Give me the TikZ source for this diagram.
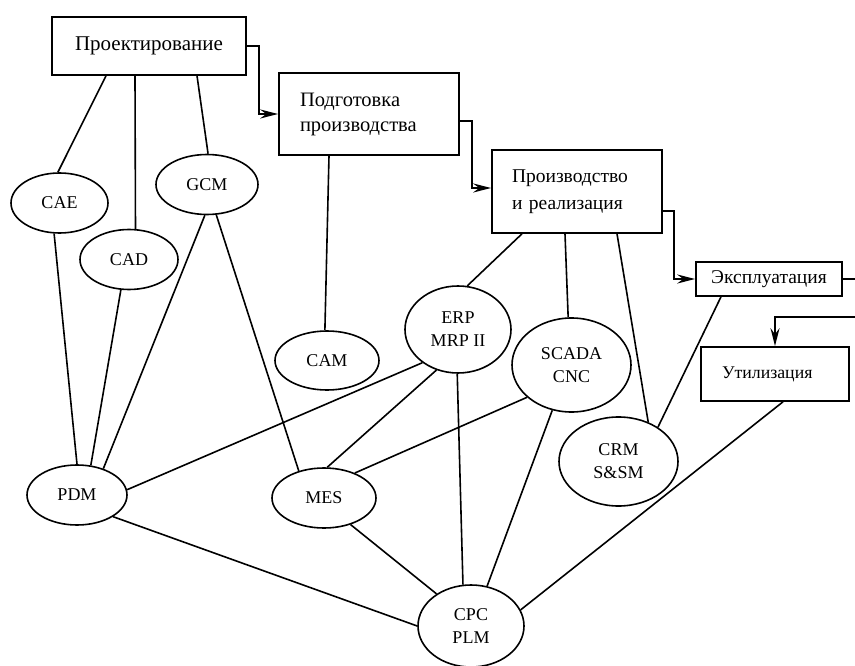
\documentclass[tikz,border=0pt]{standalone}
\usepackage{fontspec}
\setmainfont{Liberation Serif}
\usepackage{tikz}
\usetikzlibrary{arrows.meta,shapes.geometric}

\begin{document}
\begin{tikzpicture}[x=1pt,y=-1pt,line width=1.6pt,
  >={Stealth[length=18pt,width=9pt,inset=6pt]},
  stage/.style={draw,rectangle,inner sep=0pt,font=\fontsize{19}{24}\selectfont},
  sys/.style={draw,ellipse,inner sep=0pt,align=center,font=\fontsize{18}{23}\selectfont}]

\useasboundingbox (0,0) rectangle (855,666);

\node[stage,minimum width=194pt,minimum height=58pt,font=\fontsize{21}{25}\selectfont] (proj) at (149,46)
  {Проектирование};
\node[stage,minimum height=82pt,text width=138pt,inner xsep=21pt,align=left,
  font=\fontsize{20.5}{25}\selectfont] (prep) at (369,114) {Подготовка\\производства};
\node[stage,minimum height=83pt,text width=130pt,inner xsep=20pt,align=left,
  font=\fontsize{19.5}{27}\selectfont] (prod) at (577,191.5) {Производство\\и реализация};
\node[stage,minimum width=146pt,minimum height=34pt,font=\fontsize{19.5}{22}\selectfont] (expl) at (769,279)
  {Эксплуатация};
\node[stage,minimum height=54pt,text width=106pt,inner xsep=21pt,align=left,
  font=\fontsize{17.8}{21}\selectfont] (util) at (775,374) {Утилизация};

\node[sys,minimum width=97pt,minimum height=60pt] (cae) at (59.5,203) {CAE};
\node[sys,minimum width=98pt,minimum height=60pt] (cad) at (129,259.5) {CAD};
\node[sys,minimum width=102pt,minimum height=60pt] (gcm) at (207,184.5) {GCM};
\node[sys,minimum width=104pt,minimum height=59pt] (cam) at (327,360.5) {CAM};
\node[sys,minimum width=106pt,minimum height=87pt] (erp) at (458,329.5) {ERP\\MRP II};
\node[sys,minimum width=119pt,minimum height=94pt] (scada) at (571.5,365) {SCADA\\CNC};
\node[sys,minimum width=119pt,minimum height=89pt] (crm) at (618.5,461.5) {CRM\\S\&SM};
\node[sys,minimum width=104pt,minimum height=60pt] (mes) at (324,498) {MES};
\node[sys,minimum width=100pt,minimum height=60pt] (pdm) at (77,495) {PDM};
\node[sys,minimum width=106pt,minimum height=82pt] (cpc) at (471,626) {CPC\\PLM};

\coordinate (out) at (855,279);
\coordinate (back) at (855,317);

\path
  ([xshift=-43pt]proj.south) edge (cae.93)
  ([xshift=-14pt]proj.south) edge (cad.78)
  ([xshift=48pt]proj.south)  edge (gcm.88)

  (cae.260) edge (pdm.90)
  (cad.255) edge (pdm.65)
  (gcm.266) edge (pdm.45)
  (gcm.287) edge (mes.133)

  ([xshift=-40pt]prep.south) edge (cam.94)

  ([xshift=-55pt]prod.south) edge (erp.78)
  ([xshift=-12pt]prod.south) edge (scada.94)
  ([xshift=40pt]prod.south)  edge (crm.53)
  ([xshift=-48pt]expl.south) edge (crm.41)
  ([xshift=8pt]util.south)   edge (cpc.18)

  (erp.223)   edge (pdm.6)
  (erp.242)   edge (mes.84)
  (erp.269)   edge (cpc.101)
  (scada.216) edge (mes.39)
  (scada.247) edge (cpc.68)
  (pdm.329)   edge (cpc.180)
  (mes.315)   edge (cpc.137)
;

\draw[->] (proj.east) -- ++(12,0) |- (prep.west);
\draw[->] ([yshift=-7pt]prep.east) -- ++(12,0) |- ([yshift=3.5pt]prod.west);
\draw[->] ([yshift=-19.5pt]prod.east) -- ++(11,0) |- (expl.west);
\draw (expl.east) -- (out);
\draw[->] (back) -| (util.north);
\end{tikzpicture}
\end{document}
